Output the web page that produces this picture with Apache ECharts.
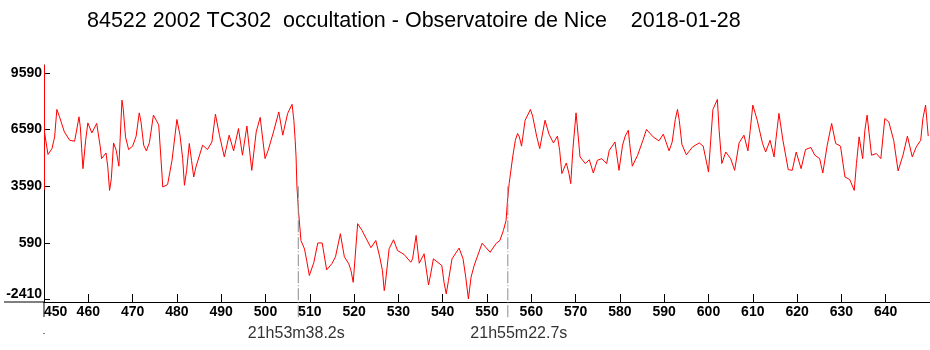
<!DOCTYPE html>
<html>
<head>
<meta charset="utf-8">
<title>84522 2002 TC302 occultation</title>
<script src="https://cdn.jsdelivr.net/npm/echarts@6/dist/echarts.min.js"></script>
<style>
  html, body { margin: 0; padding: 0; background: #fff; }
  #main { width: 930px; height: 350px; }
</style>
</head>
<body>
<div id="main"></div>
<script>
// light curve, [frame, flux]
var beforeEvent = [
  [450.1,6460],[450.9,5270],[451.8,5580],[452.4,6200],[452.9,7650],[453.5,7260],[454.6,6460],[455.8,6020],
  [456.9,5970],[457.3,6460],[457.9,7260],[458.2,6730],[458.5,5580],[458.8,4520],[459.4,6020],[459.9,6940],
  [460.8,6410],[461.9,6910],[462.7,5670],[463.0,5050],[464.0,5350],[464.4,4610],[464.8,3370],[465.2,3990],
  [465.7,5880],[466.3,5490],[466.9,4650],[467.6,8140],[467.9,7650],[468.4,6200],[469.1,5530],[470.0,5710],
  [470.8,6240],[471.5,7470],[471.9,6990],[472.5,5760],[473.1,5460],[473.8,5900],[474.7,7350],[475.4,7050],
  [475.9,6820],[476.7,3990],[476.8,3550],[477.9,3680],[478.9,4960],[480.0,7120],[480.7,6290],[481.3,5050],
  [481.7,3640],[482.2,4430],[482.8,5850],[483.3,4960],[483.8,4080],[484.3,4610],[485.8,5760],[486.9,5530],
  [487.9,5930],[488.7,7400],[489.6,6290],[490.7,5140],[491.8,6290],[492.8,5460],[493.9,6640],[494.8,5230],
  [495.8,6770],[496.9,4430],[497.9,6460],[498.8,7230],[499.9,5050],[500.6,5490],[501.8,6460],[503.0,7520],
  [503.9,6290],[505.0,7440],[506.0,7920],[506.4,7080],[506.7,6020],[506.9,5140],[507.1,3550],[507.5,2140]
];
var duringEvent = [
  [508.0,720],[508.8,280],[509.3,-340],[509.9,-1130],[510.9,-450],[511.8,590],[512.8,590],[513.8,-830],
  [515.0,-500],[515.8,-140],[516.9,1080],[517.8,-140],[518.8,-510],[519.3,-870],[519.8,-1490],[520.8,1610],
  [521.8,1250],[523.8,340],[524.9,720],[525.8,-160],[526.4,-870],[526.8,-1930],[527.0,-1660],[527.9,280],
  [528.9,760],[529.8,190],[531.3,-20],[532.8,-430],[533.2,-250],[534.0,990],[534.7,-480],[535.8,20],
  [536.8,-1630],[537.3,-1040],[537.9,-250],[539.8,-600],[540.3,-1490],[540.8,-2100],[541.3,-1400],[542.1,-250],
  [543.7,320],[544.6,-250],[545.2,-1220],[545.8,-2370],[546.0,-2460],[546.4,-1220],[547.1,-600],[548.9,580],
  [550.7,100],[552.1,580],[552.9,720],[553.7,1250],[554.3,1780],[554.6,2750]
];
var afterEvent = [
  [555.0,3730],[555.8,5140],[556.4,6020],[556.9,6380],[557.3,6200],[557.8,5710],[558.6,7080],[559.3,7400],
  [559.8,7650],[560.3,7300],[561.2,6240],[561.9,5580],[563.1,7080],[564.0,6340],[565.0,5880],[565.9,6240],
  [566.4,5490],[566.9,4260],[567.9,4820],[568.5,4260],[568.9,3730],[569.4,5580],[570.1,7470],[570.4,6730],
  [571.0,5140],[572.2,4790],[573.1,4990],[574.0,4290],[574.9,4960],[575.9,5050],[577.0,4790],[577.6,5490],
  [578.9,5930],[579.8,4430],[580.6,5760],[581.2,6240],[581.9,6550],[582.2,5850],[582.8,4650],[584.0,5230],
  [585.2,6020],[586.0,6590],[587.5,6200],[588.8,5990],[589.8,6340],[591.1,5460],[591.8,5930],[592.5,7120],
  [593.0,7650],[593.4,7080],[594.0,5800],[595.0,5250],[596.4,5670],[597.9,5880],[598.8,5710],[599.7,4700],
  [600.0,4340],[600.5,6020],[601.0,7650],[602.0,8180],[602.4,6550],[603.0,4790],[603.9,5400],[605.0,5050],
  [605.9,4430],[606.9,5880],[608.0,6290],[608.9,5460],[609.4,6520],[610.0,7880],[611.0,7080],[612.2,5850],
  [612.9,5400],[613.9,6020],[614.8,5140],[615.2,6020],[615.9,7440],[616.8,6020],[618.0,4470],[618.9,4430],
  [619.8,5400],[620.9,4520],[621.9,5530],[623.1,5640],[624.0,5230],[625.1,5050],[625.8,4290],[626.8,5760],
  [627.8,6910],[628.7,5850],[629.8,5710],[630.8,4080],[631.9,3940],[632.9,3370],[633.4,4790],[634.0,6200],
  [634.8,5050],[635.3,6550],[635.8,7350],[636.8,5230],[637.9,5320],[638.9,5050],[639.8,7170],[640.7,6990],
  [641.8,6020],[642.8,4400],[643.9,5230],[644.9,6240],[646.0,5140],[646.9,5670],[647.9,6020],[648.4,7170],
  [649.0,7880],[649.6,6240]
];

// y ticks as printed on the plot
var yTicks = [-2410, 590, 3590, 6590, 9590];
// disappearance / reappearance
var eventFrames = [507.4, 554.7];
var eventLabels = ['21h53m38.2s', '21h55m22.7s'];
var eventLabelShift = [-2, 11];

var titleText = '84522 2002 TC302  occultation - Observatoire de Nice    2018-01-28';
var labelFont = 'Liberation Sans';

var chart = echarts.init(document.getElementById('main'));

var option = {
    animation: false,
    backgroundColor: '#fff',
    title: {
        text: titleText,
        left: 87,
        top: 10,
        padding: 0,
        textStyle: { fontFamily: labelFont, fontSize: 21.5, fontWeight: 'normal', color: '#000' }
    },
    grid: { left: 44, right: 0, top: 65, bottom: 48 },
    xAxis: {
        type: 'value',
        min: 450,
        max: 650,
        interval: 10,
        splitLine: { show: false },
        axisLine: { onZero: false, lineStyle: { color: '#000', width: 1 } },
        axisTick: { inside: true, length: 8, lineStyle: { color: '#000' } },
        axisLabel: {
            margin: 3,
            color: '#000',
            fontFamily: labelFont,
            fontWeight: 'bold',
            fontSize: 14,
            alignMinLabel: 'left',
            showMaxLabel: false
        }
    },
    yAxis: {
        type: 'value',
        min: -2530,
        max: 10000,
        splitLine: { show: false },
        axisLine: { show: true, onZero: false, lineStyle: { color: '#000', width: 1 } },
        axisTick: { show: true, inside: true, length: 6, customValues: yTicks, lineStyle: { color: '#000' } },
        axisLabel: {
            margin: 2,
            color: '#000',
            fontFamily: labelFont,
            fontWeight: 'bold',
            fontSize: 14,
            customValues: yTicks,
            formatter: function (v) {
                return v === yTicks[0] ? '{low|' + v + '}' : '' + v;
            },
            rich: {
                low: { fontFamily: labelFont, fontWeight: 'bold', fontSize: 14, color: '#000', padding: [0, 0, 12, 0] }
            }
        }
    },
    series: [{
        type: 'line',
        data: beforeEvent.concat(duringEvent, afterEvent),
        showSymbol: false,
        symbol: 'none',
        lineStyle: { color: '#ff0000', width: 1 },
        itemStyle: { color: '#ff0000' },
        markLine: {
            silent: true,
            symbol: 'none',
            label: { show: false },
            lineStyle: { color: '#ff0000', width: 1, type: 'solid' },
            data: [[{ coord: [450, 10000] }, { coord: [450, 3400] }]]
        }
    }]
};
chart.setOption(option);

// event lines, time stamps and the axis overhangs, placed through the grid's scales
var origin = chart.convertToPixel({ gridIndex: 0 }, [450, -2530]);
var extras = [
    { type: 'line', shape: { x1: 4, y1: origin[1], x2: origin[0], y2: origin[1] }, style: { stroke: '#000', lineWidth: 1 } },
    { type: 'line', shape: { x1: origin[0], y1: origin[1], x2: origin[0], y2: origin[1] + 15 }, style: { stroke: '#000', lineWidth: 1 } },
    { type: 'rect', shape: { x: origin[0] - 0.5, y: origin[1] + 31, width: 1, height: 1 }, style: { fill: '#000' } }
];
eventFrames.forEach(function (f, i) {
    var p = chart.convertToPixel({ gridIndex: 0 }, [f, 3590]);
    extras.push({
        type: 'line',
        z: 10,
        shape: { x1: p[0], y1: p[1], x2: p[0], y2: origin[1] + 16 },
        style: { stroke: '#8c8c8c', lineWidth: 1, lineDash: [12, 2, 1, 2] }
    });
    extras.push({
        type: 'text',
        x: p[0] + eventLabelShift[i],
        y: origin[1] + 32,
        style: {
            text: eventLabels[i],
            font: '16px "Liberation Sans"',
            fill: '#333',
            align: 'center',
            verticalAlign: 'middle'
        }
    });
});
chart.setOption({ graphic: extras });
</script>
</body>
</html>
